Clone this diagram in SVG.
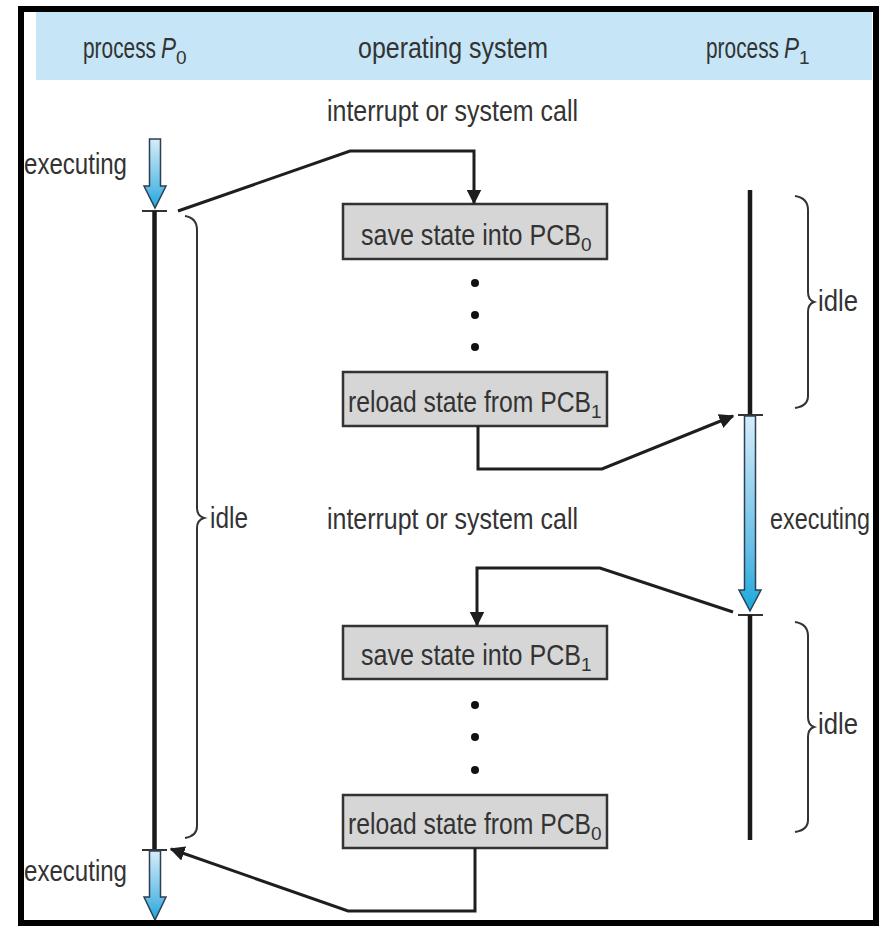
<svg xmlns="http://www.w3.org/2000/svg" width="879" height="926" viewBox="0 0 879 926">
  <style>
    text { font-family: "Liberation Sans", Arial, sans-serif; font-size: 29px; fill: #333; }
    .sub { font-size: 19px; }
    .box { fill: #d6d6d6; stroke: #333; stroke-width: 2.5; }
    .wire { fill: none; stroke: #1e1e1e; stroke-width: 3; stroke-linejoin: miter; }
    .brace { fill: none; stroke: #333; stroke-width: 2; }
    .line { stroke: #1a1a1a; stroke-width: 4.5; }
    .tick { stroke: #333; stroke-width: 2; }
    .exec { fill: url(#execGrad); stroke: #2d3f55; stroke-width: 1.5; stroke-linejoin: miter; }
    .dot { fill: #111; }
  </style>
  <defs>
    <linearGradient id="execGrad" x1="0" y1="0" x2="0" y2="1">
      <stop offset="0" stop-color="#d6ecf8"/>
      <stop offset="0.7" stop-color="#62bde6"/>
      <stop offset="1" stop-color="#1aa8dc"/>
    </linearGradient>
    <marker id="arrow" viewBox="0 0 10 10" refX="9" refY="5" markerWidth="5" markerHeight="5" orient="auto" markerUnits="strokeWidth">
      <path d="M0,0 L10,5 L0,10 Z" fill="#1e1e1e"/>
    </marker>
  </defs>

  <rect width="879" height="926" fill="#ffffff"/>

  <!-- header band -->
  <g id="header">
    <rect x="36" y="12" width="836" height="68" fill="#c6e6f7"/>
    <text x="83" y="58" textLength="73" lengthAdjust="spacingAndGlyphs">process</text>
    <text x="161" y="58" font-style="italic" textLength="15" lengthAdjust="spacingAndGlyphs">P</text>
    <text class="sub" x="176" y="64">0</text>
    <text x="358" y="58" textLength="190" lengthAdjust="spacingAndGlyphs">operating system</text>
    <text x="706" y="58" textLength="73" lengthAdjust="spacingAndGlyphs">process</text>
    <text x="784" y="58" font-style="italic" textLength="15" lengthAdjust="spacingAndGlyphs">P</text>
    <text class="sub" x="799" y="64">1</text>
  </g>

  <!-- process P0 timeline -->
  <g id="p0-timeline">
    <path class="exec" d="M149.5,139 H160.5 V186 H166 L155,208 L144,186 H149.5 Z"/>
    <line class="tick" x1="142" y1="211" x2="167" y2="211"/>
    <line class="line" x1="154.5" y1="211" x2="154.5" y2="850"/>
    <line class="tick" x1="142" y1="850" x2="167" y2="850"/>
    <path class="exec" d="M149.5,851 H160.5 V897 H166 L155,920 L144,897 H149.5 Z"/>
    <text x="24" y="174" textLength="103" lengthAdjust="spacingAndGlyphs">executing</text>
    <text x="24" y="881" textLength="103" lengthAdjust="spacingAndGlyphs">executing</text>
    <path class="brace" d="M185,216 Q197,218 197,230 V508 Q197,516 204,518 Q197,520 197,528 V826 Q197,836 185,838"/>
    <text x="210" y="528" textLength="38" lengthAdjust="spacingAndGlyphs">idle</text>
  </g>

  <!-- process P1 timeline -->
  <g id="p1-timeline">
    <line class="line" x1="750" y1="190" x2="750" y2="415"/>
    <line class="tick" x1="738" y1="415" x2="763" y2="415"/>
    <path class="exec" d="M744.5,416 H755.5 V590 H761 L750,611 L739,590 H744.5 Z"/>
    <line class="tick" x1="738" y1="615" x2="763" y2="615"/>
    <line class="line" x1="750" y1="615" x2="750" y2="840"/>
    <path class="brace" d="M795,196 Q808,198 808,210 V292 Q808,300 814,302 Q808,304 808,312 V396 Q808,406 795,408"/>
    <text x="818" y="311" textLength="40" lengthAdjust="spacingAndGlyphs">idle</text>
    <text x="770" y="529" textLength="100" lengthAdjust="spacingAndGlyphs">executing</text>
    <path class="brace" d="M795,622 Q808,624 808,636 V717 Q808,725 814,727 Q808,729 808,737 V820 Q808,830 795,832"/>
    <text x="818" y="734" textLength="40" lengthAdjust="spacingAndGlyphs">idle</text>
  </g>

  <!-- operating system column -->
  <text id="irq-1" x="327" y="121" textLength="251" lengthAdjust="spacingAndGlyphs">interrupt or system call</text>
  <text id="irq-2" x="327" y="529" textLength="251" lengthAdjust="spacingAndGlyphs">interrupt or system call</text>

  <g id="save-pcb0">
    <rect class="box" x="343" y="204" width="264" height="55"/>
    <text x="361" y="245" textLength="220" lengthAdjust="spacingAndGlyphs">save state into PCB</text>
    <text class="sub" x="581" y="251">0</text>
  </g>
  <g id="dots-1">
    <circle class="dot" cx="475" cy="283" r="4"/>
    <circle class="dot" cx="475" cy="315" r="4"/>
    <circle class="dot" cx="475" cy="347" r="4"/>
  </g>
  <g id="reload-pcb1">
    <rect class="box" x="343" y="372" width="264" height="54"/>
    <text x="348" y="412" textLength="243" lengthAdjust="spacingAndGlyphs">reload state from PCB</text>
    <text class="sub" x="591" y="418">1</text>
  </g>
  <g id="save-pcb1">
    <rect class="box" x="343" y="626" width="264" height="53"/>
    <text x="361" y="665" textLength="220" lengthAdjust="spacingAndGlyphs">save state into PCB</text>
    <text class="sub" x="581" y="671">1</text>
  </g>
  <g id="dots-2">
    <circle class="dot" cx="475" cy="705" r="4"/>
    <circle class="dot" cx="475" cy="737" r="4"/>
    <circle class="dot" cx="475" cy="770" r="4"/>
  </g>
  <g id="reload-pcb0">
    <rect class="box" x="343" y="795" width="264" height="53"/>
    <text x="348" y="834" textLength="243" lengthAdjust="spacingAndGlyphs">reload state from PCB</text>
    <text class="sub" x="591" y="840">0</text>
  </g>

  <!-- control-flow connectors -->
  <g id="connectors">
    <polyline class="wire" points="178,211 350,151 474,151 474,203" marker-end="url(#arrow)"/>
    <polyline class="wire" points="478,426 478,469 602,469 733,416" marker-end="url(#arrow)"/>
    <polyline class="wire" points="733,612 600,568 477,568 477,625" marker-end="url(#arrow)"/>
    <polyline class="wire" points="475,848 475,911 348,911 171,849" marker-end="url(#arrow)"/>
  </g>

  <!-- outer frame -->
  <rect x="21" y="9" width="855" height="914" fill="none" stroke="#000" stroke-width="6"/>
</svg>
